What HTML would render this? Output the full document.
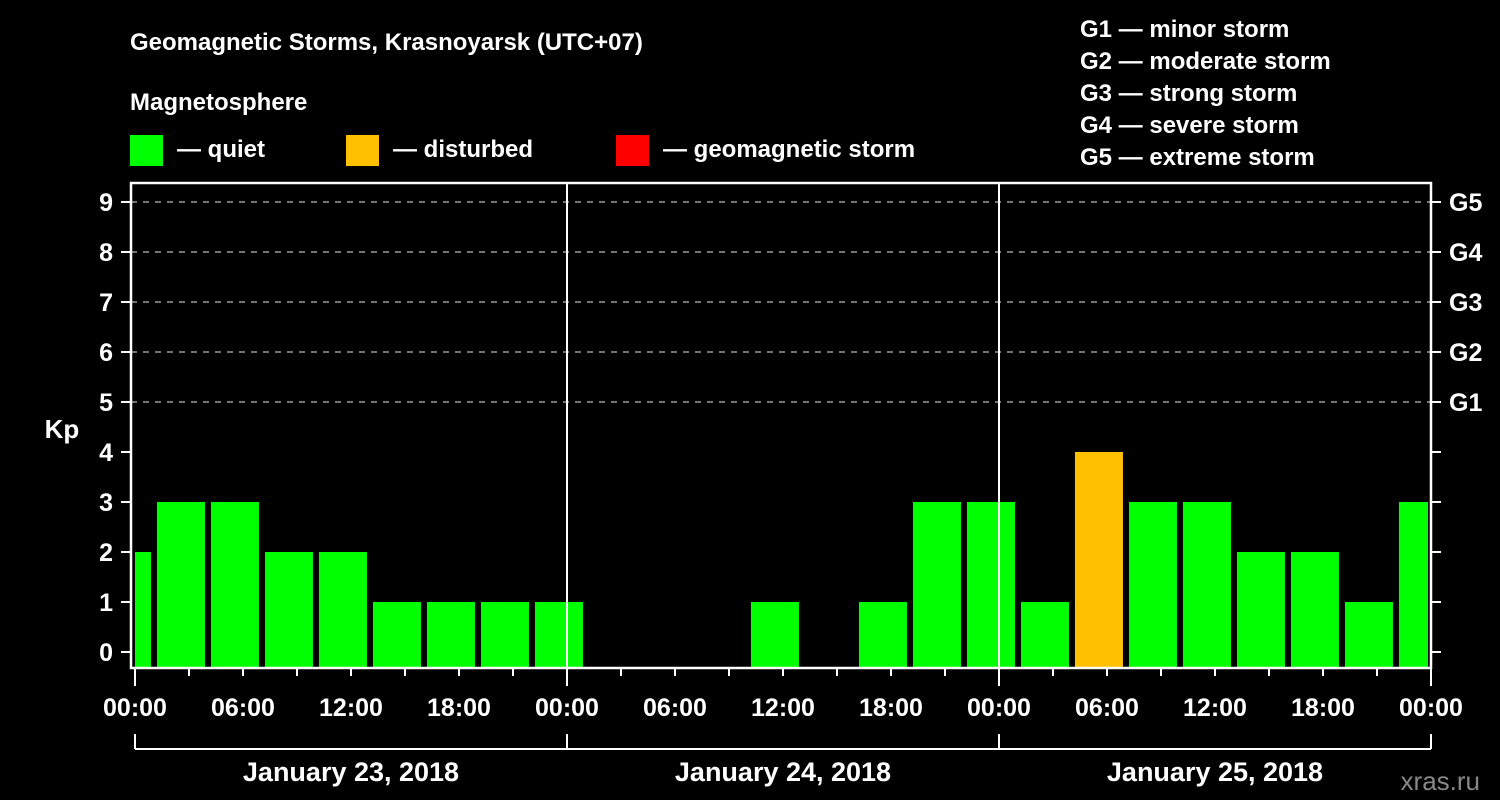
<!DOCTYPE html>
<html><head><meta charset="utf-8"><style>
html,body{margin:0;padding:0;background:#000;}
svg{display:block;font-family:"Liberation Sans",Arial,sans-serif;font-weight:bold;}
</style></head><body>
<svg id="c" width="1500" height="800" viewBox="0 0 1500 800">
<text x="130" y="50" fill="#fff" font-size="24">Geomagnetic Storms, Krasnoyarsk (UTC+07)</text>
<text x="130" y="110" fill="#fff" font-size="24">Magnetosphere</text>
<g><rect x="130" y="135" width="33" height="31" fill="#00ff00"/><text x="177" y="157" fill="#fff" font-size="24">— quiet</text></g>
<g><rect x="346" y="135" width="33" height="31" fill="#ffc000"/><text x="393" y="157" fill="#fff" font-size="24">— disturbed</text></g>
<g><rect x="616" y="135" width="33" height="31" fill="#ff0000"/><text x="663" y="157" fill="#fff" font-size="24">— geomagnetic storm</text></g>
<g fill="#fff" font-size="24">
<text x="1080" y="37">G1 — minor storm</text>
<text x="1080" y="69">G2 — moderate storm</text>
<text x="1080" y="101">G3 — strong storm</text>
<text x="1080" y="133">G4 — severe storm</text>
<text x="1080" y="165">G5 — extreme storm</text>
</g>
<text x="62" y="438" fill="#fff" font-size="26" text-anchor="middle">Kp</text>
<text x="1480" y="790" fill="#888" font-size="26" text-anchor="end" font-weight="normal">xras.ru</text>
<g id="grid"></g><g id="bars"></g><g id="axes"></g>
</svg>
<script>
const kpValues=[2,3,3,2,2,1,1,1,1,0,0,0,1,0,1,3,3,1,4,3,3,2,2,1,3];
const yTickLabels=["0","1","2","3","4","5","6","7","8","9"];
const gLabels=["G1","G2","G3","G4","G5"];
const xTickLabels=["00:00","06:00","12:00","18:00","00:00","06:00","12:00","18:00","00:00","06:00","12:00","18:00","00:00"];
const dayLabels=["January 23, 2018","January 24, 2018","January 25, 2018"];
const NS="http://www.w3.org/2000/svg";
const L=131,R=1431,T=183,B=668,X0=135,PXH=18;
const xs=h=>X0+h*PXH; const ys=v=>652-v*50;
function mk(tag,attrs,parent,txt){const e=document.createElementNS(NS,tag);for(const k in attrs)e.setAttribute(k,attrs[k]);if(txt!=null)e.textContent=txt;parent.appendChild(e);return e;}
const grid=document.getElementById('grid'),bars=document.getElementById('bars'),axes=document.getElementById('axes');
for(let v=5;v<=9;v++){const l=mk('line',{x1:L,x2:R,y1:ys(v),y2:ys(v),stroke:'#999','stroke-width':1.5,'stroke-dasharray':'6,6'},grid);

}
kpValues.forEach((v,i)=>{if(v<=0)return;
let x1=xs(-1.78+3*i),x2=x1+48;x1=Math.max(x1,L+4);x2=Math.min(x2,R-3);
const r=mk('rect',{x:x1,y:ys(v),width:x2-x1,height:B-ys(v),fill:v>=5?'#ff0000':(v>=4?'#ffc000':'#00ff00')},bars);

});
const fr=mk('rect',{x:L,y:T,width:R-L,height:B-T,fill:'none',stroke:'#fff','stroke-width':2.5},axes);


[1,2].forEach(d=>{const l=mk('line',{x1:xs(24*d),x2:xs(24*d),y1:T,y2:B,stroke:'#fff','stroke-width':2},axes);

});
yTickLabels.forEach((t,v)=>{mk('line',{x1:L-10,x2:L,y1:ys(v),y2:ys(v),stroke:'#fff','stroke-width':2},axes);
mk('line',{x1:R,x2:R+10,y1:ys(v),y2:ys(v),stroke:'#fff','stroke-width':2},axes);
const tx=mk('text',{x:L-18,y:ys(v)+9,fill:'#fff','font-size':25,'text-anchor':'end'},axes,t);

});
gLabels.forEach((g,i)=>{const tx=mk('text',{x:R+18,y:ys(5+i)+9,fill:'#fff','font-size':25},axes,g);

});
for(let h=0;h<=72;h+=3){const big=h%24===0;mk('line',{x1:xs(h),x2:xs(h),y1:B,y2:B+(big?18:8),stroke:'#fff','stroke-width':2},axes);}
xTickLabels.forEach((t,i)=>{const tx=mk('text',{x:xs(6*i),y:716,fill:'#fff','font-size':25,'text-anchor':'middle'},axes,t);

});
mk('line',{x1:xs(0),x2:xs(72),y1:749,y2:749,stroke:'#fff','stroke-width':2},axes);
for(let d=0;d<=3;d++)mk('line',{x1:xs(24*d),x2:xs(24*d),y1:734,y2:749,stroke:'#fff','stroke-width':2},axes);
dayLabels.forEach((t,d)=>{const tx=mk('text',{x:xs(24*d+12),y:781,fill:'#fff','font-size':27,'text-anchor':'middle'},axes,t);

});
</script>
</body></html>
